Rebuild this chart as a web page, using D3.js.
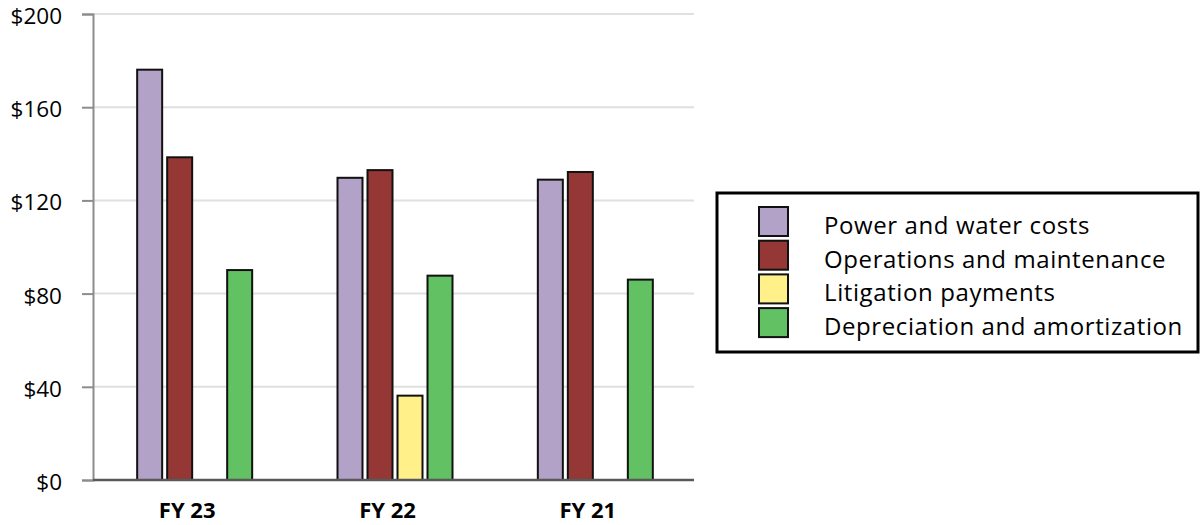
<!DOCTYPE html>
<html>
<head>
<meta charset="utf-8">
<script src="https://cdn.jsdelivr.net/npm/d3@7"></script>
<style>
  html, body { margin: 0; padding: 0; background: #fff; }
  svg { display: block; }
  text { font-family: "Open Sans", Lato, sans-serif; fill: #000; }
</style>
</head>
<body>
<svg id="chart" width="1204" height="525"></svg>
<script>
// Fiscal years shown on the x axis
const years = ["FY 23", "FY 22", "FY 21"];

// Cost series (millions of dollars); null where no amount was reported
const seriesNames = [
  "Power and water costs",
  "Operations and maintenance",
  "Litigation payments",
  "Depreciation and amortization"
];
const powerWater = [176.1, 129.7, 128.9];
const opsMaint = [138.5, 133.0, 132.2];
const litigation = [null, 36.2, null];
const deprAmort = [90.1, 87.7, 86.0];

const seriesColors = ["#b3a2c7", "#953735", "#fff08a", "#62c162"];
const yTicks = [0, 40, 80, 120, 160, 200];

const seriesValues = [powerWater, opsMaint, litigation, deprAmort];

const svg = d3.select("#chart");
const plot = { left: 93, right: 694, top: 14, bottom: 480 };

const x = d3.scaleBand().domain(years).range([plot.left, plot.right]).padding(0);
const slot = 30, barW = 25;
const y = d3.scaleLinear().domain([0, 200]).range([plot.bottom, plot.top]);

// Horizontal gridlines
svg.append("g").selectAll("line").data(yTicks.filter(d => d > 0)).join("line")
  .attr("x1", plot.left).attr("x2", plot.right)
  .attr("y1", d => y(d)).attr("y2", d => y(d))
  .attr("stroke", "#e0e0e0").attr("stroke-width", 2);

// Y axis with dollar tick labels
const yAxis = svg.append("g").attr("transform", `translate(${plot.left},0)`)
  .call(d3.axisLeft(y).tickValues(yTicks).tickSize(11).tickPadding(20).tickFormat(d => "$" + d));
yAxis.select(".domain").attr("stroke", "#8c8c8c").attr("stroke-width", 2);
yAxis.selectAll(".tick line").attr("stroke", "#8c8c8c").attr("stroke-width", 2);
yAxis.selectAll(".tick text")
  .attr("font-size", 22.5)
  .attr("dy", "0.42em")
  .attr("font-family", "'Open Sans', Lato, sans-serif")
  .attr("fill", "#000");

// Bars, four slots per fiscal year
const groupW = slot * 4 - (slot - barW);
const groups = svg.append("g").selectAll("g").data(years).join("g")
  .attr("transform", d => `translate(${x(d) + x.bandwidth() / 2 - groupW / 2 + 1.5},0)`);

groups.each(function (yr, i) {
  const g = d3.select(this);
  const rows = seriesValues.map((vals, s) => ({ s, v: vals[i] })).filter(r => r.v != null);
  g.selectAll("rect").data(rows).join("rect")
    .attr("x", r => r.s * slot)
    .attr("width", barW)
    .attr("y", r => y(r.v))
    .attr("height", r => y(0) - y(r.v))
    .attr("fill", r => seriesColors[r.s])
    .attr("stroke", "#111")
    .attr("stroke-width", 2);
});

// Baseline
svg.append("line")
  .attr("x1", plot.left).attr("x2", plot.right)
  .attr("y1", y(0)).attr("y2", y(0))
  .attr("stroke", "#595959").attr("stroke-width", 2.5);

// Category labels
svg.append("g").selectAll("text").data(years).join("text")
  .attr("x", d => x(d) + x.bandwidth() / 2 - 6)
  .attr("y", 518)
  .attr("text-anchor", "middle")
  .attr("font-size", 22)
  .attr("font-weight", "bold")
  .text(d => d);

// Legend
const legend = svg.append("g");
legend.append("rect")
  .attr("x", 717).attr("y", 193).attr("width", 481).attr("height", 159)
  .attr("fill", "#fff").attr("stroke", "#000").attr("stroke-width", 3);
const items = legend.selectAll("g").data(seriesNames).join("g")
  .attr("transform", (d, i) => `translate(0,${207 + i * 33.7})`);
items.append("rect")
  .attr("x", 759).attr("y", 0).attr("width", 29).attr("height", 29)
  .attr("fill", (d, i) => seriesColors[i]).attr("stroke", "#111").attr("stroke-width", 2);
items.append("text")
  .attr("x", 824).attr("y", 27)
  .attr("font-size", 24)
  .attr("letter-spacing", 0.6)
  .text(d => d);
</script>
</body>
</html>
